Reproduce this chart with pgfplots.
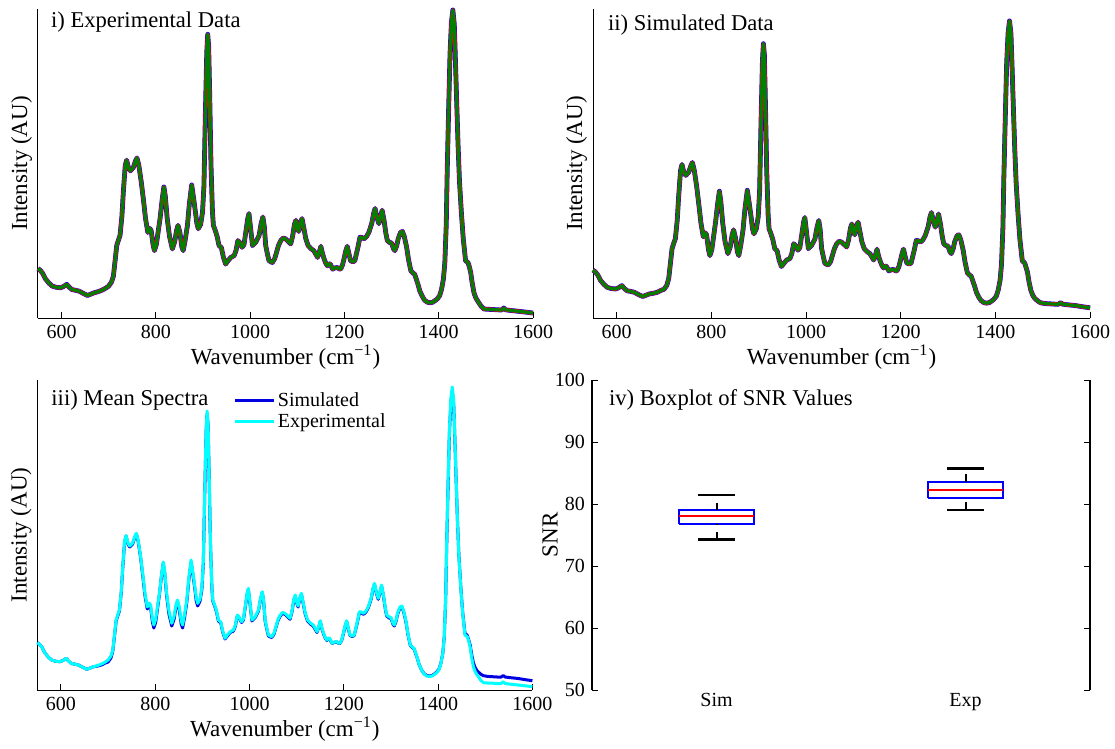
\documentclass[border=0pt]{standalone}
\usepackage{pgfplots}
\pgfplotsset{compat=1.18}
\usepackage{pgfplotstable}
\usepackage{fontspec}
\setmainfont{Liberation Serif}

\definecolor{mblue}{rgb}{0,0,1}
\definecolor{simblue}{rgb}{0,0,0.88}
\definecolor{mgreen}{rgb}{0,0.5,0}
\definecolor{mred}{rgb}{1,0,0}
\definecolor{mcyan}{rgb}{0,1,1}

\pgfplotstableread{
wn h
550 48.3
555 46.5
560 43.5
566 38
573 34
580 31
588 29.8
598 29.3
604 30.5
611 32.7
616 30
622 27.5
630 26.8
637 26
645 24
655 21.7
662 23
669 24.3
678 25.5
686 27
694 29
700 31
706 35
710 41
714 58
717 71
721 77
724 81
728 100
731 124
735 150
738 155.5
742 148
746 145
752 148
757 155
760 157.7
764 150
769 134
774 115
778 98
783 84
787 88
790 86
794 72
797 66
801 72
805 85
809 98
813 115
817 129
820 120
824 98
829 80
835 67.7
840 75
844 86
847 91
851 84
855 70
858 66
862 76
867 91
871 112
876 131
880 118
884 104
887 93
890 87.7
895 92
899 104
902 130
905 200
908 262
910 280
912 268
914 225
917 150
920 105
922 91
926 86
930 80
934 71
939 69
943 60
948 52.7
953 56
959 59.3
966 61
970 66
974 76
978 74
983 69.3
987 72
991 85
995 98
997.5 102.7
1001 88
1005 71
1012 74.3
1019 81
1023 92
1027 99.3
1030 90
1033 71
1037 62
1040 56
1047 54.3
1052 58
1056 64.3
1060 71
1065 76
1070 78.5
1075 77.7
1081 75
1086 72.7
1090 80
1094 92
1097 96
1100 89
1103 85
1107 94
1110 97.7
1114 88
1118 78
1123 71
1129 68
1135 66
1140 62
1143 59.3
1147 65
1150 70.3
1153 64
1157 57.7
1161 53
1164 51
1167 53
1170 52.7
1175 47.7
1180 49
1185 49.3
1189 48
1192 47.7
1196 52
1199 57.7
1203 66
1206 70.3
1209 64
1213 56
1218 55
1222 56
1228 68
1233 79.3
1237 79
1242 77.7
1247 80
1252 84.3
1258 93
1262 103
1265 107.7
1269 99
1273 92.7
1277 100
1280 106
1284 96
1288 83
1291 76
1296 74
1300 73.7
1304 68
1307 66
1311 71
1314 77.7
1319 84
1323 85
1327 80
1332 69.3
1336 57
1341 46
1345 44
1349 42.7
1353 37
1356 32.7
1360 26
1365 21
1370 17
1376 15
1382 14.5
1387 15
1392 16.5
1397 18.3
1402 21.5
1406 27.7
1410 38
1413 54.3
1416 92
1418 144
1421 205
1424 261
1427 292
1430 304
1433 290
1435 261
1438 215
1441 171
1444 135
1448 104
1452 78
1457 56
1460 55
1462 54.3
1465 50
1468 44
1471 34
1475 24
1479 19
1483 16
1490 11
1496 8.3
1505 8
1515 7.8
1525 7.5
1533 7.3
1538 9.3
1542 7.5
1550 7
1570 6
1585 5.2
1600 4.3
}\exptab

\pgfplotstableread{
wn h
550 48.3
555 46.5
560 43.5
566 38
573 34
580 31
588 29.8
598 29.3
604 30.5
611 32.7
616 30
622 27.5
630 26.8
637 26
645 24
655 21.7
662 23
669 24.3
678 25
686 26
694 28
700 29
706 33
710 40
714 57
717 70
721 76
724 80
728 99
731 123
735 149
738 155
742 147
746 144
752 147
757 154
760 157
764 149
769 133
774 113
778 96
783 82
787 86
790 84
794 69
797 63
801 69
805 83
809 97
813 114
817 128
820 118
824 96
829 77
835 65
840 72
844 84
847 89
851 81
855 67
858 63
862 73
867 89
871 110
876 129
880 116
884 102
887 90
890 85
895 90
899 102
902 128
905 198
908 260
910 277
912 266
914 223
917 149
920 104
922 90
926 85
930 79
934 70
939 68
943 59
948 52
953 55
959 58.5
966 60
970 65
974 75
978 73
983 68.5
987 71
991 84
995 97
997.5 101.5
1001 87
1005 70
1012 73.5
1019 80
1023 91
1027 98.5
1030 89
1033 70
1037 61
1040 55
1047 53.5
1052 57
1056 63.5
1060 70
1065 75
1070 77.5
1075 76.7
1081 74
1086 71.7
1090 79
1094 91
1097 95
1100 88
1103 84
1107 93
1110 96.7
1114 87
1118 77
1123 70
1129 67
1135 65
1140 61
1143 58.5
1147 64
1150 69.5
1153 63
1157 57
1161 52.5
1164 50.5
1167 52.5
1170 52
1175 47.5
1180 48.7
1185 49
1189 47.7
1192 47.5
1196 51.5
1199 57
1203 65
1206 69.5
1209 63
1213 55.5
1218 54.5
1222 55.5
1228 67
1233 78.3
1237 78
1242 76.7
1247 79
1252 83.3
1258 92
1262 102
1265 106.5
1269 98
1273 91.7
1277 99
1280 105
1284 95
1288 82
1291 75
1296 73
1300 72.7
1304 67
1307 65
1311 70
1314 76.7
1319 83
1323 84
1327 79
1332 68.5
1336 56.5
1341 45.5
1345 43.5
1349 42.2
1353 36.5
1356 32.5
1360 26
1365 21
1370 17.5
1376 15.5
1382 15
1387 15.5
1392 17
1397 19
1402 22
1406 28
1410 38
1413 54
1416 91
1418 142
1421 202
1424 258
1427 288
1430 300
1433 287
1435 259
1438 214
1441 171
1444 136
1448 105
1452 79
1457 57.5
1460 56.5
1462 55.5
1465 51
1468 46
1471 37
1475 28
1479 23
1483 20
1490 17
1496 15.3
1505 14.6
1515 14.3
1525 14
1533 13.8
1538 15.5
1542 14
1550 13.5
1570 12.5
1585 11.3
1600 10.3
}\simtab

\tikzset{ttl/.style={anchor=base west, font=\fontsize{11.3}{13}\selectfont}}

\pgfplotsset{
  spec/.style={
    scale only axis,
    xmin=550, xmax=1600,
    axis lines*=left,
    axis line style={line width=0.5pt, black},
    xtick={600,800,...,1600},
    ytick=\empty,
    tick align=inside,
    major tick length=3pt,
    every tick/.style={black, line width=0.5pt},
    /pgf/number format/assume math mode=true,
    /pgf/number format/1000 sep={},
    tick label style={font=\fontsize{10}{12}\selectfont},
    label style={font=\fontsize{11.5}{13.5}\selectfont},
    xlabel={Wavenumber (cm\textsuperscript{−1})},
    ylabel={Intensity (AU)},
    xlabel style={at={(axis description cs:0.5,0)}, anchor=center, yshift=-19.5pt},
    ylabel style={at={(axis description cs:-0.033,0.5)}, anchor=center},
    clip=false,
  },
}

\begin{document}
\begin{tikzpicture}
\path[use as bounding box] (0,0) rectangle (557.5pt,-374.5pt);

% ---- panel i ----
\begin{axis}[spec, at={(19pt,-159pt)}, anchor=south west,
  width=247.5pt, height=154.5pt, ymin=-0.6, ymax=305]
\addplot[mblue, line width=2.4pt, line join=round] table[x=wn,y=h]{\exptab};
\addplot[mred, line width=1.95pt, line join=round] table[x=wn,y=h]{\exptab};
\addplot[mgreen, line width=1.55pt, line join=round] table[x=wn,y=h]{\exptab};
\node[ttl] at (axis description cs:0,1) [xshift=3pt, yshift=-9.5pt] {i) Experimental Data};
\end{axis}

% ---- panel ii ----
\begin{axis}[spec, at={(296.5pt,-159pt)}, anchor=south west,
  width=248.5pt, height=154.5pt, ymin=0, ymax=312]
\addplot[mblue, line width=2.4pt, line join=round] table[x=wn,y=h]{\simtab};
\addplot[mred, line width=1.95pt, line join=round] table[x=wn,y=h]{\simtab};
\addplot[mgreen, line width=1.55pt, line join=round] table[x=wn,y=h]{\simtab};
\node[ttl] at (axis description cs:0,1) [xshift=4pt, yshift=-11pt] {ii) Simulated Data};
\end{axis}

% ---- panel iii ----
\begin{axis}[spec, at={(18.7pt,-345pt)}, anchor=south west,
  width=247.5pt, height=155pt, ymin=1, ymax=311,
  legend style={at={(axis description cs:0.384,1)}, anchor=north west, draw=none, fill=none,
    font=\fontsize{10}{10}\selectfont, row sep=0pt, yshift=-3pt,
    nodes={inner sep=1pt}},
  legend cell align=left,
  legend image code/.code={\draw[#1] (0pt,0pt) -- (19.5pt,0pt);}]
\addplot[simblue, line width=1.5pt, line join=round] table[x=wn,y=h]{\simtab};
\addlegendentry{Simulated}
\addplot[mcyan, line width=1.5pt, line join=round] table[x=wn,y=h]{\exptab};
\addlegendentry{Experimental}
\node[ttl] at (axis description cs:0,1) [xshift=3.5pt, yshift=-12.5pt] {iii) Mean Spectra};
\end{axis}

% ---- panel iv ----
\begin{axis}[scale only axis, at={(296pt,-345pt)}, anchor=south west,
  width=249pt, height=155pt,
  xmin=0.5, xmax=2.5, ymin=50, ymax=100,
  xtick={1,2}, xticklabels={Sim,Exp},
  ytick={50,60,...,100},
  ytick pos=both, yticklabel pos=left,
  separate axis lines,
  x axis line style={draw=none},
  y axis line style={line width=0.6pt, black},
  major x tick style={draw=none},
  tick align=inside, major tick length=3pt,
  every tick/.style={black, line width=0.5pt},
  /pgf/number format/assume math mode=true,
  tick label style={font=\fontsize{10}{12}\selectfont},
  xticklabel style={yshift=2pt},
  label style={font=\fontsize{11.5}{13.5}\selectfont},
  ylabel={SNR},
  ylabel style={at={(axis description cs:-0.084,0.5)}, anchor=center},
  clip=false]
% Sim box
\addplot[mblue, line width=1pt] coordinates {(0.85,76.75) (1.15,76.75) (1.15,79.0) (0.85,79.0) (0.85,76.75)};
\addplot[black, line width=1pt, dash pattern=on 3.8pt off 3.8pt] coordinates {(1,74.27) (1,76.75)};
\addplot[black, line width=1pt, dash pattern=on 3.8pt off 3.8pt] coordinates {(1,79.0) (1,81.5)};
\addplot[black, line width=1.2pt] coordinates {(0.925,74.27) (1.075,74.27)};
\addplot[black, line width=1.2pt] coordinates {(0.925,81.5) (1.075,81.5)};
\addplot[mred, line width=1pt] coordinates {(0.85,78.05) (1.15,78.05)};
% Exp box
\addplot[mblue, line width=1pt] coordinates {(1.85,80.97) (2.15,80.97) (2.15,83.57) (1.85,83.57) (1.85,80.97)};
\addplot[black, line width=1pt, dash pattern=on 3.8pt off 3.8pt] coordinates {(2,79.03) (2,80.97)};
\addplot[black, line width=1pt, dash pattern=on 3.8pt off 3.8pt] coordinates {(2,83.57) (2,85.7)};
\addplot[black, line width=1.2pt] coordinates {(1.925,79.03) (2.075,79.03)};
\addplot[black, line width=1.2pt] coordinates {(1.925,85.7) (2.075,85.7)};
\addplot[mred, line width=1pt] coordinates {(1.85,82.27) (2.15,82.27)};
\node[ttl] at (axis description cs:0,1) [xshift=5pt, yshift=-12.5pt] {iv) Boxplot of SNR Values};
\end{axis}
\end{tikzpicture}
\end{document}
